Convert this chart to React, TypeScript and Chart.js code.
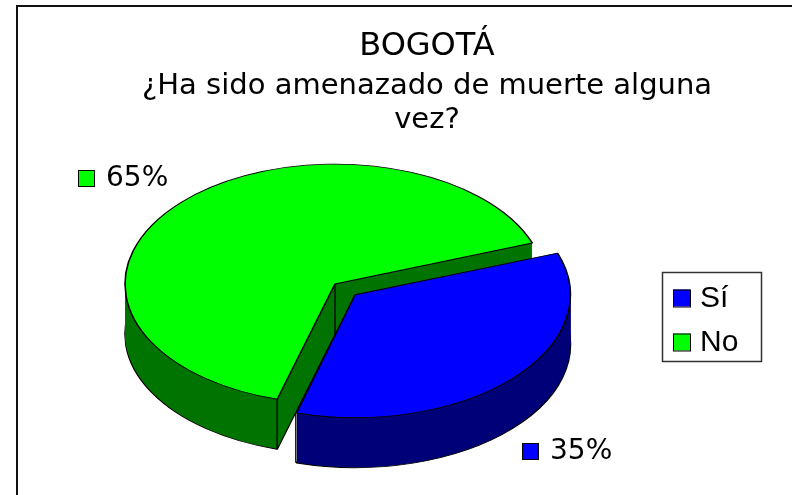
import React, { useEffect, useRef } from "react";
import { Chart, registerables } from "chart.js";
Chart.register(...registerables);

const categories = ["Sí", "No"];
const values = [35, 65];
const topColors = ["#0000FF", "#00FF00"];
const sideColors = ["#000078", "#007400"];
const explode = [110, 0];
const titleLines = ["BOGOTÁ", "¿Ha sido amenazado de muerte alguna", "vez?"];

const SQUASH = 0.571;
const DEPTH = 50;
const RADIUS = 210;

function arcGeom(arc: any) {
  const p = arc.getProps(["x", "y", "startAngle", "endAngle", "outerRadius", "circumference"], true);
  const off = (arc.options.offset || 0) / 4;
  const half = (p.startAngle + p.endAngle) / 2;
  const tx = Math.cos(half) * off;
  const ty = Math.sin(half) * off;
  const fix = 1 - Math.sin(Math.min(Math.PI, p.circumference || 0));
  const R = p.outerRadius + off * fix;
  return { ...p, half, tx, ty, R };
}

const pie3d = {
  id: "pie3d",
  beforeDraw(chart: any) {
    const ctx = chart.ctx;
    ctx.save();
    ctx.fillStyle = "#fff";
    ctx.fillRect(0, 0, chart.width, chart.height);
    ctx.strokeStyle = "#111";
    ctx.lineWidth = 2;
    ctx.beginPath();
    ctx.moveTo(17, chart.height);
    ctx.lineTo(17, 6);
    ctx.lineTo(chart.width, 6);
    ctx.stroke();
    ctx.restore();
  },
  beforeDatasetsDraw(chart: any) {
    const ctx = chart.ctx;
    const arcs = chart.getDatasetMeta(0).data;
    if (!arcs.length) return false;
    const cx = arcs[0].x;
    const cy = arcs[0].y;
    ctx.save();
    ctx.translate(cx, cy);
    ctx.scale(1, SQUASH);
    ctx.translate(-cx, -cy);
    const order = [1, 0];
    for (const i of order) {
      const arc = arcs[i];
      const orig = arc.options;
      for (let d = DEPTH; d >= 1; d--) {
        arc.options = {
          ...orig,
          backgroundColor: sideColors[i],
          borderColor: d === DEPTH ? "#000" : sideColors[i],
          borderWidth: d === DEPTH ? 1.6 : 0,
        };
        ctx.save();
        ctx.translate(0, d / SQUASH);
        arc.draw(ctx);
        ctx.restore();
      }
      arc.options = orig;
      const g = arcGeom(arc);
      ctx.save();
      ctx.strokeStyle = "#000";
      ctx.lineWidth = 1.3;
      const corners: number[][] = [];
      for (const a of [g.startAngle, g.endAngle]) {
        if (Math.sin(a) > 0) corners.push([g.x + g.tx + Math.cos(a) * g.R, g.y + g.ty + Math.sin(a) * g.R]);
      }
      if (Math.cos(g.startAngle) < 0 || Math.cos(g.endAngle) > 0) corners.push([g.x + g.tx, g.y + g.ty]);
      for (const c of corners) {
        ctx.beginPath();
        ctx.moveTo(c[0], c[1]);
        ctx.lineTo(c[0], c[1] + DEPTH / SQUASH);
        ctx.stroke();
      }
      ctx.restore();
      arc.draw(ctx);
    }
    ctx.restore();
    return false;
  },
  afterDraw(chart: any) {
    const ctx = chart.ctx;
    const arcs = chart.getDatasetMeta(0).data;
    ctx.save();
    ctx.fillStyle = "#000";
    ctx.textAlign = "center";
    ctx.textBaseline = "middle";
    const ty = [47, 86, 120];
    const fs = [32, 29, 29];
    titleLines.forEach((t, k) => {
      ctx.font = fs[k] + "px 'DejaVu Sans'";
      ctx.fillText(t, 427, ty[k]);
    });
    const total = values.reduce((s, v) => s + v, 0);
    ctx.font = "28px 'DejaVu Sans'";
    ctx.textAlign = "left";
    arcs.forEach((arc: any, i: number) => {
      const g = arcGeom(arc);
      const c = Math.cos(g.half);
      const s = Math.sin(g.half);
      const px = g.x + g.tx + c * RADIUS * 1.38;
      const py = g.y + g.ty * SQUASH + s * RADIUS * SQUASH * 1.3 + (s > 0 ? DEPTH : 0);
      const txt = Math.round((values[i] / total) * 100) + "%";
      const tw = ctx.measureText(txt).width;
      const box = 16;
      const gap = 12;
      const w = box + gap + tw;
      const x0 = Math.round(px - w / 2);
      const y0 = Math.round(py - box / 2);
      ctx.fillStyle = topColors[i];
      ctx.fillRect(x0, y0, box, box);
      ctx.strokeStyle = "#000";
      ctx.lineWidth = 1;
      ctx.strokeRect(x0 + 0.5, y0 + 0.5, box, box);
      ctx.fillStyle = "#000";
      ctx.fillText(txt, x0 + box + gap, py + 1);
    });
    ctx.strokeStyle = "#333";
    ctx.lineWidth = 1.5;
    ctx.strokeRect(662.5, 272.5, 99, 89);
    ctx.font = "30px 'Liberation Sans'";
    const ly = [298, 342];
    categories.forEach((lab, i) => {
      ctx.fillStyle = topColors[i];
      ctx.fillRect(673, ly[i] - 8.5, 17, 17);
      ctx.strokeStyle = "#000";
      ctx.lineWidth = 1;
      ctx.strokeRect(673.5, ly[i] - 8.5 + 0.5, 17, 17);
      ctx.fillStyle = "#000";
      ctx.fillText(lab, 700, ly[i] + 1);
    });
    ctx.restore();
  },
};

export default function App() {
  const ref = useRef<HTMLCanvasElement | null>(null);
  useEffect(() => {
    if (!ref.current) return;
    const chart = new Chart(ref.current, {
      type: "pie",
      data: {
        labels: categories,
        datasets: [
          {
            data: values,
            backgroundColor: topColors,
            borderColor: "#000",
            borderWidth: 1.6,
            offset: explode,
            radius: RADIUS,
          } as any,
        ],
      },
      options: {
        responsive: false,
        maintainAspectRatio: false,
        animation: false,
        events: [],
        rotation: 70,
        layout: { padding: { left: 0, right: 122, top: 73, bottom: 0 } },
        plugins: {
          legend: { display: false },
          title: { display: false },
          tooltip: { enabled: false },
        },
      } as any,
      plugins: [pie3d as any],
    });
    return () => chart.destroy();
  }, []);
  return (
    <div style={{ position: "absolute", left: 0, top: 0, width: 792, height: 495, overflow: "hidden", background: "#fff" }}>
      <canvas ref={ref} width={792} height={495} style={{ display: "block" }} />
    </div>
  );
}
